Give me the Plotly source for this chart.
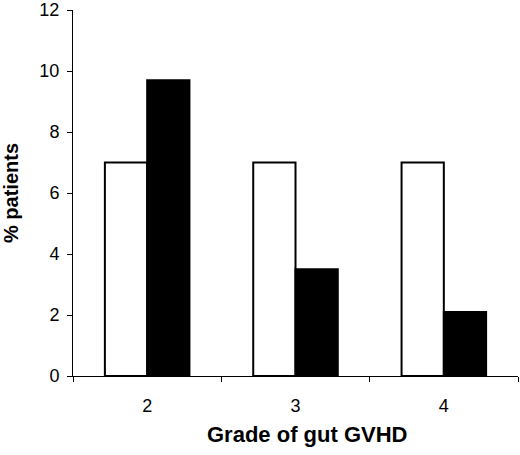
import plotly.graph_objects as go

categories = ["2", "3", "4"]
series_white = [7.0, 7.0, 7.0]
series_black = [9.7, 3.5, 2.1]
y_ticks = [0, 2, 4, 6, 8, 10, 12]

fig = go.Figure()
fig.add_trace(go.Bar(x=categories, y=series_white, marker=dict(color="white", line=dict(color="black", width=2)), showlegend=False))
fig.add_trace(go.Bar(x=categories, y=series_black, marker=dict(color="black", line=dict(color="black", width=2)), showlegend=False))

font = "Liberation Sans, Arial, sans-serif"
fig.update_layout(
    width=520, height=455,
    margin=dict(l=73, r=2, t=10, b=79),
    paper_bgcolor="white", plot_bgcolor="white",
    barmode="group", bargap=0.43, bargroupgap=0,
    font=dict(family=font, size=18, color="black"),
    xaxis=dict(
        type="category", range=[-0.5, 2.5], tickson="boundaries",
        ticks="outside", ticklen=5, tickcolor="black", tickwidth=1,
        showline=True, linecolor="black", linewidth=1,
        showgrid=False, zeroline=False, automargin=False,
        tickfont=dict(size=18), ticklabelstandoff=13,
    ),
    yaxis=dict(
        range=[0, 12], tickvals=y_ticks,
        ticks="outside", ticklen=5, tickcolor="black", tickwidth=1,
        showline=True, linecolor="black", linewidth=1,
        showgrid=False, zeroline=False, automargin=False,
        tickfont=dict(size=18), ticklabelstandoff=4,
        title=dict(text="<b>% patients</b>", font=dict(size=20), standoff=24),
    ),
    annotations=[dict(
        text="<b>Grade of gut GVHD</b>", xref="paper", yref="paper",
        x=0.526, y=-0.161, xanchor="center", yanchor="middle",
        showarrow=False, font=dict(size=22),
    )],
)
fig.write_html("out.html", config={"displayModeBar": False},
               post_script="document.body.style.margin='0';")
